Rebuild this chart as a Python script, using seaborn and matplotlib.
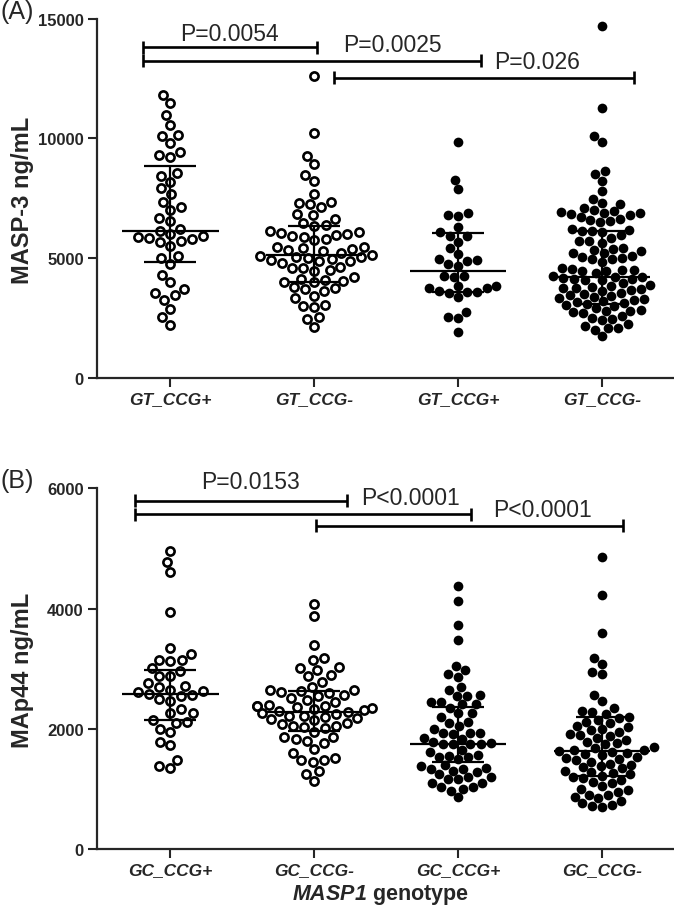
import numpy as np
import pandas as pd
import matplotlib
matplotlib.use("Agg")
import matplotlib.pyplot as plt
import seaborn as sns

# ---------------- data ----------------
group_keys = ["g1", "g2", "g3", "g4"]
a_tick_labels = ["GT_CCG+", "GT_CCG-", "GT_CCG+", "GT_CCG-"]
b_tick_labels = ["GC_CCG+", "GC_CCG-", "GC_CCG+", "GC_CCG-"]
open_groups = ["g1", "g2"]

# Panel A: MASP-3 ng/mL
a_g1 = [11800, 11470, 10970, 10555, 10140, 10110, 9800, 9440, 9300, 9220, 8550,
        8440, 8190, 7930, 7680, 7360, 7130, 7020, 6680, 6560, 6220, 6150, 6010,
        5940, 5840, 5780, 5700, 5880, 5660, 5520, 5080, 4990, 4760, 4300, 3990,
        3710, 3545, 3460, 3265, 2880, 2530, 2210]
a_g2 = [12590, 10220, 9275, 8930, 8480, 8230, 7680, 7350, 7300, 7250, 7120,
        6800, 6840, 6630, 6450, 6400, 6350, 6150, 6080, 6020, 6050, 5940, 5900,
        5800, 5750, 5970, 5480, 5310, 5410, 5450, 5380, 5330, 5200, 5150, 5100,
        5050, 5035, 4890, 4960, 4930, 5000, 4900, 4800, 4575, 4475, 4650, 4520,
        4600, 4060, 3990, 4130, 4200, 4020, 4100, 3780, 3710, 3640, 3740, 3430,
        3325, 3015, 2950, 3050, 2530, 2460, 2115]
a_g3 = [9830, 8270, 7880, 6880, 6800, 6760, 6280, 6080, 5910, 5910, 5690, 5410,
        5170, 4960, 4930, 4890, 4760, 4660, 4240, 4200, 4240, 3830, 3830, 3740,
        3740, 3640, 3575, 3575, 3545, 3370, 2740, 2530, 2490, 1930]
a_g4 = [14670, 11250, 10080, 9830, 8620, 8510, 8230, 7810, 7470, 7300, 7260,
        7080, 7000, 6950, 6920, 6900, 6880, 6840, 6800,
        6700, 6650, 6600, 6550, 6500, 6200, 6180, 6150, 6120, 6100,
        5950, 5850, 5730, 5700, 5650, 5420, 5380, 5350, 5300, 5230, 5230,
        5100, 5035, 5000, 4980, 4950, 4830, 4600, 4550, 4520, 4500, 4480, 4450, 4400,
        4250, 4220, 4200, 4180, 4150, 4120, 4100, 4080,
        3950, 3900, 3850, 3800, 3760, 3740, 3700, 3680, 3650,
        3550, 3500, 3450, 3420, 3400, 3350, 3300,
        3250, 3200, 3160, 3130, 3100, 3050, 3000,
        2900, 2850, 2810, 2780, 2750, 2700, 2600, 2500, 2450, 2400,
        2250, 2180, 2100, 2070, 2015, 1740]
a_median = [6120, 5130, 4475, 4200]
a_q1 = [4850, 3990, 3575, 3100]
a_q3 = [8860, 6350, 6040, 6120]
a_pvals = ["P=0.0054", "P=0.0025", "P=0.026"]

# Panel B: MAp44 ng/mL
b_g1 = [4950, 4780, 4610, 3940, 3340, 3245, 3150, 3130, 3150, 3005, 2965, 2870,
        2870, 2760, 2690, 2705, 2650, 2580, 2615, 2630, 2470, 2540, 2500, 2560,
        2265, 2265, 2330, 2110, 2150, 2100, 2000, 1940, 1785, 1730, 1485, 1340, 1375]
b_g2 = [4080, 3870, 3390, 3150, 3170, 3005, 3020, 2980, 2895, 2870, 2780, 2700,
        2650, 2630, 2610, 2640, 2600, 2560, 2550, 2520, 2480, 2450, 2400, 2385,
        2385, 2380, 2370, 2350, 2330, 2320, 2300, 2280, 2260, 2240, 2220, 2220,
        2200, 2180, 2160, 2150, 2100, 2080, 2050, 2050, 2030, 2010, 1950, 1870,
        1830, 1765, 1800, 1870, 1665, 1510, 1485, 1450, 1485, 1600, 1300, 1250, 1135]
b_g3 = [4370, 4120, 3730, 3470, 3040, 2980, 2910, 2860, 2700, 2650, 2550, 2560,
        2550, 2410, 2410, 2440, 2440, 2350, 2260, 2260, 2200, 2110, 2100, 2050,
        2000, 1915, 1930, 1930, 1930, 1850, 1830, 1760, 1740, 1750, 1750, 1740,
        1780, 1650, 1620, 1525, 1550, 1570, 1525, 1500, 1400, 1380, 1330, 1300,
        1330, 1280, 1340, 1250, 1190, 1160, 1160, 1100, 1100, 1190, 1025, 1000,
        970, 1025, 860]
b_g4 = [4850, 4225, 3600, 3080, 3170, 2910, 2950, 2560, 2470, 2350, 2300, 2280,
        2250, 2200, 2180, 2150, 2120, 2100, 2050, 2030, 2000, 1980, 1950, 1920,
        1900, 1880, 1850, 1820, 1780, 1760, 1740, 1700, 1680, 1650, 1640, 1630,
        1620, 1600, 1580, 1560, 1530, 1510, 1500, 1480, 1450, 1420, 1400, 1380,
        1360, 1340, 1300, 1280, 1260, 1240, 1220, 1200, 1180, 1150, 1120, 1100,
        1050, 1000, 980, 950, 900, 890, 870, 850, 800, 760, 740, 720, 700]
b_median = [2580, 2275, 1750, 1635]
b_q1 = [2150, 1970, 1450, 1220]
b_q3 = [2980, 2630, 2370, 2200]
b_pvals = ["P=0.0153", "P<0.0001", "P<0.0001"]

# ---------------- style ----------------
sns.set_style("ticks")
plt.rcParams["font.family"] = ["Liberation Sans", "DejaVu Sans"]
plt.rcParams["mathtext.fontset"] = "custom"
plt.rcParams["mathtext.bfit"] = "Liberation Sans:bold:italic"

W, H = 674, 912
fig = plt.figure(figsize=(W / 100, H / 100), dpi=100)


def frame(groups):
    rows = []
    for k, vals in zip(group_keys, groups):
        for v in vals:
            rows.append((k, v))
    return pd.DataFrame(rows, columns=["group", "value"])


def panel(rect, groups, med, q1, q3, ylim, yticks, ticklabels,
          brackets, pvals, ptext_pos):
    ax = fig.add_axes(rect)
    df = frame(groups)
    df_open = df[df["group"].isin(open_groups)]
    df_fill = df[~df["group"].isin(open_groups)]
    sns.swarmplot(data=df_open, x="group", y="value", order=group_keys,
                  color="white", edgecolor="black", linewidth=1.9, size=5.9,
                  ax=ax, zorder=2)
    sns.swarmplot(data=df_fill, x="group", y="value", order=group_keys,
                  color="black", edgecolor="black", linewidth=0, size=7.0,
                  ax=ax, zorder=2)
    xs = np.arange(len(group_keys))
    ax.hlines(med, xs - 0.335, xs + 0.335, color="black", lw=1.6, zorder=4)
    ax.hlines(q1, xs - 0.18, xs + 0.18, color="black", lw=1.6, zorder=4)
    ax.hlines(q3, xs - 0.18, xs + 0.18, color="black", lw=1.6, zorder=4)
    ax.vlines(xs, q1, q3, color="black", lw=1.6, zorder=4)

    ax.set_xlim(-0.51, 3.5)
    ax.set_ylim(*ylim)
    ax.set_yticks(yticks)
    ax.set_yticklabels([str(t) for t in yticks], fontsize=12, fontweight="bold")
    ax.set_xticks(xs)
    ax.set_xticklabels(ticklabels, fontsize=12.5, fontweight="bold", style="italic")
    ax.set_xlabel("")
    ax.set_ylabel("")
    sns.despine(ax=ax)
    for s in ["left", "bottom"]:
        ax.spines[s].set_linewidth(1.6)
    ax.tick_params(axis="both", length=6.5, width=1.5, pad=3)

    hh = (ylim[1] - ylim[0]) * 6.5 / 360
    for (x0, x1, y) in brackets:
        kw = dict(color="black", lw=1.9, clip_on=False, solid_capstyle="butt", zorder=5)
        ax.plot([x0, x1], [y, y], **kw)
        ax.plot([x0, x0], [y - hh, y + hh], **kw)
        ax.plot([x1, x1], [y - hh, y + hh], **kw)
    for txt, (tx, ty) in zip(pvals, ptext_pos):
        ax.text(tx, ty, txt, ha="center", va="center", fontsize=16.5, clip_on=False)
    return ax


def rect_from_px(left, top, bottom, right=W):
    return [left / W, 1 - bottom / H, (right - left) / W, (bottom - top) / H]


axA = panel(rect_from_px(97, 19.5, 379), [a_g1, a_g2, a_g3, a_g4],
            a_median, a_q1, a_q3, (0, 15000), [0, 5000, 10000, 15000],
            a_tick_labels,
            [(-0.19, 1.02, 13810), (-0.19, 2.16, 13240), (1.14, 3.22, 12535)],
            a_pvals, [(0.41, 14390), (1.545, 13930), (2.55, 13200)])

axB = panel(rect_from_px(97, 489.3, 850), [b_g1, b_g2, b_g3, b_g4],
            b_median, b_q1, b_q3, (0, 6000), [0, 2000, 4000, 6000],
            b_tick_labels,
            [(-0.246, 1.226, 5795), (-0.246, 2.09, 5565), (1.01, 3.145, 5375)],
            b_pvals, [(0.56, 6110), (1.67, 5840), (2.585, 5640)])

# axis titles and panel letters
fig.text(22 / W, 1 - 200 / H, "MASP-3 ng/mL", rotation=90, ha="center", va="center",
         fontsize=17, fontweight="bold")
fig.text(22 / W, 1 - 670 / H, "MAp44 ng/mL", rotation=90, ha="center", va="center",
         fontsize=17, fontweight="bold")
fig.text(0, 1 - 12 / H, "(A)", ha="left", va="center", fontsize=18)
fig.text(0, 1 - 481 / H, "(B)", ha="left", va="center", fontsize=18)
fig.text(380 / W, 1 - 895 / H, r"$\mathbfit{MASP1}$ genotype", ha="center", va="center",
         fontsize=15.5, fontweight="bold")

fig.savefig("out.png", dpi=100)
